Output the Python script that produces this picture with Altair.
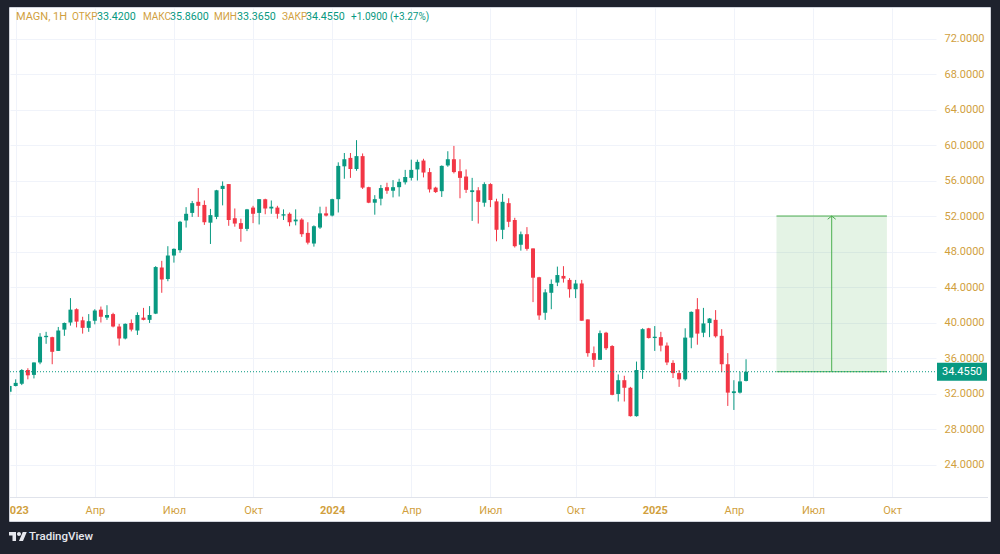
import altair as alt
import pandas as pd
import numpy as np

# ---------------- data ----------------
SYMBOL = "MAGN, 1H"
FIRST_BAR = "2022-12-26"  # weekly bars, Monday open

opens = [32.2, 32.85, 33.1, 34.65, 34.1, 35.5, 38.35, 38.35, 36.8, 39.2,
         40.0, 41.5, 40.25, 39.4, 40.2, 41.45, 40.55, 40.95, 39.55, 38.2,
         39.95, 39.1, 40.55, 40.3, 41.0, 46.2, 44.9, 47.55, 48.15, 51.5,
         52.35, 53.6, 53.25, 51.25, 51.9, 55.05, 55.6, 51.75, 51.2, 50.55,
         52.95, 52.35, 53.9, 52.85, 52.95, 52.05, 52.25, 51.4, 51.6, 50.1,
         48.9, 50.7, 52.3, 52.05, 53.9, 57.6, 58.55, 57.3, 58.75, 55.25,
         53.5, 53.95, 55.25, 54.85, 55.25, 55.8, 56.3, 57.25, 58.25, 56.95,
         55.2, 54.8, 57.7, 58.4, 57.05, 56.45, 54.7, 54.9, 53.5, 55.6,
         53.65, 50.45, 53.45, 51.55, 48.75, 49.95, 48.35, 45.1, 41.1, 43.35,
         44.5, 45.25, 44.8, 43.75, 44.4, 40.35, 36.55, 35.8, 38.85, 37.35,
         31.95, 33.5, 32.65, 29.45, 34.65, 39.35, 38.25, 38.35, 37.4, 35.45,
         34.3, 33.6, 38.3, 41.5, 38.85, 39.95, 40.3, 38.5, 35.3, 32.05,
         32.1, 33.42]
highs = [33.0, 33.6, 34.75, 34.85, 35.5, 38.8, 38.95, 38.4, 39.5, 40.0,
         42.75, 41.6, 40.65, 40.95, 41.5, 41.8, 41.95, 41.1, 39.85, 39.9,
         40.35, 41.15, 41.65, 41.85, 46.35, 46.95, 48.6, 48.35, 51.45, 53.0,
         53.7, 55.15, 53.75, 52.8, 54.95, 55.9, 55.6, 52.85, 51.7, 52.8,
         53.15, 53.9, 53.95, 53.75, 53.15, 52.75, 52.4, 52.75, 51.75, 51.3,
         50.95, 53.05, 53.05, 53.95, 58.05, 59.1, 59.1, 60.55, 59.05, 55.3,
         54.35, 55.5, 55.75, 56.05, 56.2, 57.2, 58.35, 58.35, 58.45, 57.4,
         55.3, 57.7, 59.3, 59.9, 58.4, 57.25, 56.3, 55.25, 55.8, 55.7,
         53.95, 54.5, 54.0, 51.8, 50.25, 50.75, 48.35, 45.15, 43.75, 44.85,
         46.3, 46.35, 45.0, 44.8, 44.8, 40.35, 37.3, 39.1, 38.95, 37.45,
         34.15, 34.0, 32.75, 35.6, 39.35, 39.4, 39.6, 38.95, 37.75, 35.75,
         34.65, 39.35, 41.25, 42.75, 41.65, 40.5, 41.4, 39.25, 36.55, 33.5,
         34.45, 35.86]
lows = [31.8, 32.8, 32.95, 33.6, 33.7, 35.3, 37.6, 35.3, 36.8, 38.5,
        39.65, 39.45, 38.75, 38.95, 39.8, 40.0, 40.3, 39.45, 37.4, 38.1,
        39.0, 38.6, 40.25, 39.95, 40.95, 43.35, 44.65, 46.75, 47.85, 50.7,
        51.9, 51.9, 51.0, 48.85, 51.65, 53.2, 50.9, 50.8, 49.1, 50.3,
        51.2, 51.05, 52.2, 52.25, 51.7, 51.55, 50.85, 50.95, 49.65, 48.8,
        48.55, 50.55, 51.95, 51.95, 52.4, 56.2, 56.3, 57.1, 55.05, 53.45,
        52.15, 53.2, 54.5, 54.1, 54.2, 55.55, 56.0, 56.0, 56.35, 54.65,
        54.6, 54.15, 57.55, 56.8, 54.0, 54.6, 51.45, 51.15, 53.05, 53.0,
        49.15, 49.4, 50.75, 48.45, 48.1, 48.1, 42.3, 40.3, 40.3, 41.5,
        44.1, 44.5, 42.8, 42.75, 40.2, 36.15, 35.0, 35.8, 36.9, 31.8,
        31.1, 31.1, 29.4, 29.4, 33.65, 38.2, 36.8, 36.75, 35.2, 33.75,
        32.75, 33.45, 37.1, 37.5, 38.35, 38.35, 38.3, 34.4, 30.6, 30.15,
        32.0, 33.365]
closes = [32.85, 33.2, 34.65, 34.05, 35.5, 38.4, 38.5, 36.7, 39.1, 39.95,
          41.45, 40.1, 39.4, 40.15, 41.35, 40.65, 40.85, 39.55, 38.2, 39.85,
          39.2, 40.85, 40.3, 40.85, 46.25, 44.85, 47.55, 48.3, 51.35, 52.25,
          53.45, 53.15, 51.3, 52.1, 54.9, 55.4, 51.55, 51.15, 50.55, 52.75,
          52.25, 53.9, 52.85, 53.05, 52.25, 52.2, 51.3, 51.6, 49.95, 49.0,
          50.85, 52.3, 52.05, 53.9, 57.65, 58.4, 57.3, 58.75, 55.2, 53.5,
          53.9, 55.15, 54.85, 55.25, 55.85, 56.4, 57.2, 58.1, 56.9, 55.0,
          54.7, 57.65, 58.4, 56.95, 56.3, 54.95, 54.9, 53.6, 55.6, 53.8,
          50.45, 53.6, 51.35, 48.6, 49.95, 48.3, 45.05, 40.8, 43.4, 44.35,
          45.35, 44.95, 43.75, 44.4, 40.2, 36.55, 35.8, 38.8, 37.1, 31.85,
          33.5, 32.65, 29.45, 34.65, 39.25, 38.25, 38.4, 37.4, 35.5, 34.3,
          33.6, 38.3, 41.2, 38.75, 39.9, 40.45, 38.45, 35.3, 32.1, 32.25,
          33.365, 34.455]

# quarter gridlines sit on the first weekly bar of each quarter
tick_dates = ["2023-01-02", "2023-04-03", "2023-07-03", "2023-10-02",
              "2024-01-01", "2024-04-01", "2024-07-01", "2024-10-07",
              "2025-01-06", "2025-04-07", "2025-07-07", "2025-10-06"]
month_names = {3: "Апр", 6: "Июл", 9: "Окт"}
price_ticks = [24, 28, 32, 36, 40, 44, 48, 52, 56, 60, 64, 68, 72]

# long-position drawing
trade_dates = ["2025-05-26", "2025-09-30"]
trade_target = 52.0

# ---------------- style ----------------
UP = "#089981"
DOWN = "#f23645"
GOLD = "#d19f3e"
GRID = "#f0f3fa"
FRAME = "#1e222d"
POS = "#4caf50"
FONT = "Roboto"

W, H = 926, 489          # plot area
PAD_L, PAD_T = 10, 8


def ms(s):
    return int(pd.Timestamp(s, tz="UTC").value // 10**6)


x_domain = [ms("2022-12-26T11:00"), ms("2025-11-25T11:00")]
y_domain = [20.34, 75.44]

dates = pd.date_range(FIRST_BAR, periods=len(opens), freq="7D").strftime("%Y-%m-%d")
df = pd.DataFrame({"date": dates, "open": opens, "high": highs,
                   "low": lows, "close": closes})
df["dir"] = np.where(df["close"] >= df["open"], "up", "down")

last = df.iloc[-1]
prev_close = df.iloc[-2]["close"]
chg = last["close"] - prev_close
chg_pct = chg / prev_close * 100

xs = alt.Scale(type="utc", domain=x_domain, padding=0)
ys = alt.Scale(domain=y_domain, nice=False, zero=False)
col = alt.Color("dir:N", scale=alt.Scale(domain=["up", "down"], range=[UP, DOWN]), legend=None)

label_expr = ("utcmonth(datum.value)==0 ? utcFormat(datum.value,'%Y') : "
              + " : ".join(f"utcmonth(datum.value)=={m} ? '{n}'" for m, n in month_names.items())
              + " : ''")

x_axis = alt.Axis(values=[ms(d) for d in tick_dates], labelExpr=label_expr, grid=True,
                  gridColor=GRID, domain=False, ticks=False, labelColor=GOLD,
                  labelFont=FONT, labelFontSize=11, labelPadding=7, title=None,
                  labelFlush=False, labelOverlap=False,
                  labelFontWeight={"condition": {"test": "utcmonth(datum.value)==0", "value": "bold"},
                                   "value": "normal"})
y_axis = alt.Axis(orient="right", values=price_ticks, format=".4f", grid=True,
                  gridColor=GRID, domain=False, ticks=False, labelColor=GOLD,
                  labelFont=FONT, labelFontSize=11, labelPadding=8, title=None)

base = alt.Chart(df)

wicks = base.mark_rule(strokeWidth=1, clip=True).encode(
    x=alt.X("date:T", scale=xs, axis=x_axis),
    y=alt.Y("low:Q", scale=ys, axis=y_axis),
    y2="high:Q",
    color=col,
)
bodies = base.mark_bar(size=4, clip=True).encode(
    x=alt.X("date:T", scale=xs),
    y=alt.Y("open:Q", scale=ys),
    y2="close:Q",
    color=col,
)

one = pd.DataFrame({"k": [0]})

# price line at last close
last_df = pd.DataFrame({"price": [last["close"]], "label": [f"{last['close']:.4f}"]})
price_line = alt.Chart(last_df).mark_rule(color=UP, strokeWidth=1, strokeDash=[1, 2]).encode(
    x=alt.value(0), x2=alt.value(W), y=alt.Y("price:Q", scale=ys))
badge = alt.Chart(last_df).mark_rule(color=UP, strokeWidth=18).encode(
    x=alt.value(927), x2=alt.value(977), y=alt.Y("price:Q", scale=ys))
badge_txt = alt.Chart(last_df).mark_text(color="white", font=FONT, fontSize=11,
                                          baseline="middle", align="center").encode(
    x=alt.value(952), y=alt.Y("price:Q", scale=ys), text="label:N")

# long position box with arrow
t0, t1 = ms(trade_dates[0]), ms(trade_dates[1])
trade = pd.DataFrame({"t0": [t0], "t1": [t1], "tm": [(t0 + t1) // 2],
                      "entry": [last["close"]], "target": [trade_target]})
tc = alt.Chart(trade)
box = tc.mark_rect(color=POS, opacity=0.15).encode(
    x=alt.X("t0:T", scale=xs), x2="t1:T", y=alt.Y("entry:Q", scale=ys), y2="target:Q")
box_top = tc.mark_rule(color=POS, strokeWidth=1).encode(
    x=alt.X("t0:T", scale=xs), x2="t1:T", y=alt.Y("target:Q", scale=ys))
box_bot = tc.mark_rule(color=POS, strokeWidth=1).encode(
    x=alt.X("t0:T", scale=xs), x2="t1:T", y=alt.Y("entry:Q", scale=ys))
arrow = tc.mark_rule(color=POS, strokeWidth=1).encode(
    x=alt.X("tm:T", scale=xs), y=alt.Y("entry:Q", scale=ys), y2="target:Q")
arrow_head = tc.mark_point(shape="M-1,0.8L0,0L1,0.8", filled=False, color=POS,
                           strokeWidth=1, size=64, opacity=1).encode(
    x=alt.X("tm:T", scale=xs), y=alt.Y("target:Q", scale=ys))

# header line: symbol, OHLC and change
header_texts = [SYMBOL, "ОТКР", f"{last['open']:.4f}", "МАКС", f"{last['high']:.4f}",
                "МИН", f"{last['low']:.4f}", "ЗАКР", f"{last['close']:.4f}",
                f"{chg:+.4f} ({chg_pct:+.2f}%)"]
header_colors = [GOLD, GOLD, UP, GOLD, UP, GOLD, UP, GOLD, UP, UP]
header_sizes = [11, 10, 10.7, 10, 10.7, 10, 10.7, 10, 10.7, 10]
header_x = [6, 62, 87, 133, 160, 204, 227, 272, 296, 341]
header = [
    alt.Chart(one).mark_text(text=t, color=c, font=FONT, fontSize=fs,
                             align="left", baseline="middle").encode(
        x=alt.value(hx), y=alt.value(9))
    for t, c, fs, hx in zip(header_texts, header_colors, header_sizes, header_x)
]

# time-scale separator
sep = alt.Chart(one).mark_rule(color="#e0e3eb", strokeWidth=1).encode(
    x=alt.value(0), x2=alt.value(978), y=alt.value(H + 0.5))

# dark frame around the white panel
frame_boxes = [(-PAD_L, 990, -PAD_T, 0), (-PAD_L, 0, -PAD_T, 546),
               (980, 990, -PAD_T, 546), (-PAD_L, 990, 513, 546)]
frame = [
    alt.Chart(one).mark_rect(color=FRAME).encode(
        x=alt.value(a), x2=alt.value(b), y=alt.value(c), y2=alt.value(d))
    for a, b, c, d in frame_boxes
]
panel_edge = alt.Chart(one).mark_rect(fill=None, stroke="#d1d4dc", strokeWidth=1).encode(
    x=alt.value(-0.5), x2=alt.value(980.5), y=alt.value(-0.5), y2=alt.value(513.5))

# footer brand
LOGO = ("M-0.222,0.5L-0.611,0.5L-0.611,-0.111L-1,-0.111L-1,-0.5L-0.222,-0.5Z"
        "M0.556,0.5L0.111,0.5L0.528,-0.5L0.972,-0.5Z"
        "M-0.111,-0.278A0.222,0.222,0,1,0,0.333,-0.278A0.222,0.222,0,1,0,-0.111,-0.278Z")
logo = alt.Chart(one).mark_point(shape=LOGO, filled=True, color="#e6e8ee", opacity=1,
                                 size=324, strokeWidth=0).encode(
    x=alt.value(8), y=alt.value(528.5))
brand = alt.Chart(one).mark_text(text="TradingView", color="#e6e8ee", font=FONT,
                                 fontSize=11.5, fontWeight=500, align="left",
                                 baseline="middle").encode(
    x=alt.value(19), y=alt.value(528.5))

chart = alt.layer(
    box, box_top, box_bot, arrow, arrow_head,
    wicks, bodies, price_line, badge, badge_txt, *header, sep,
    *frame, panel_edge, logo, brand,
).properties(
    width=W, height=H,
    autosize=alt.AutoSizeParams(type="none"),
    padding={"left": PAD_L, "top": PAD_T, "right": 1000 - PAD_L - W, "bottom": 554 - PAD_T - H},
    background="white",
).configure_view(stroke=None)

chart.save("out.html", embed_options={"renderer": "svg", "actions": False})
